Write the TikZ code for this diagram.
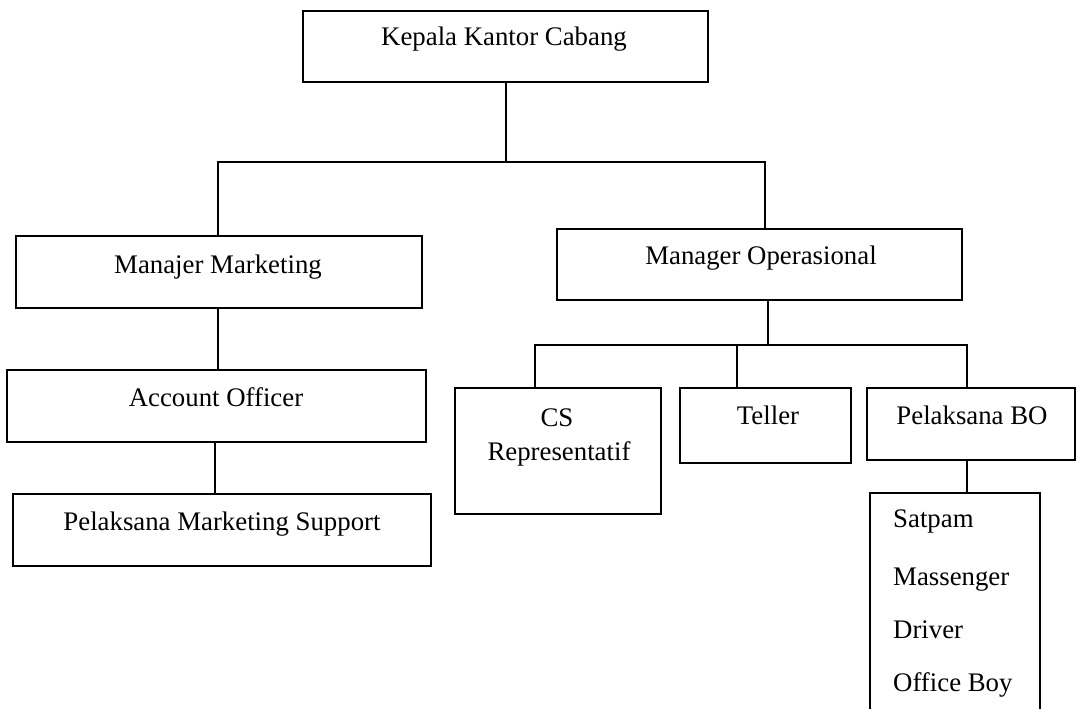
\documentclass[tikz,border=0pt]{standalone}
\usepackage{fontspec}
\setmainfont{Liberation Serif}
\begin{document}
\begin{tikzpicture}[x=1pt,y=-1pt,
  box/.style={draw, line width=2pt, inner sep=0pt, outer sep=0pt},
  lbl/.style={font=\fontsize{26.8}{32}\selectfont, inner sep=0pt, anchor=base},
  lbll/.style={font=\fontsize{26.8}{32}\selectfont, inner sep=0pt, anchor=base west},
  conn/.style={line width=2pt}]
\useasboundingbox (0,0) rectangle (1077,709);
\clip (0,0) rectangle (1077,709);
% boxes
\node[box, minimum width=405pt, minimum height=71pt] (kkc) at (505.5,46.5) {};
\node[box, minimum width=406pt, minimum height=72pt] (mm) at (219,272) {};
\node[box, minimum width=405pt, minimum height=71pt] (mo) at (759.5,264.5) {};
\node[box, minimum width=419pt, minimum height=72pt] (ao) at (216.5,406) {};
\node[box, minimum width=418pt, minimum height=72pt] (pms) at (222,530) {};
\node[box, minimum width=206pt, minimum height=126pt] (cs) at (558,451) {};
\node[box, minimum width=171pt, minimum height=75pt] (tel) at (765.5,425.5) {};
\node[box, minimum width=208pt, minimum height=72pt] (pbo) at (971,424) {};
\node[box, minimum width=170pt, minimum height=223pt] (staff) at (955,604.5) {};
% labels
\node[lbl] (kkct) at (504,46) {Kepala Kantor Cabang};
\node[lbl] (mmt) at (218,273) {Manajer Marketing};
\node[lbl] (mot) at (761,264) {Manager Operasional};
\node[lbl] (aot) at (216,406) {Account Officer};
\node[lbl] (pmst) at (222,530) {Pelaksana Marketing Support};
\node[lbl] (cst1) at (557,426) {CS};
\node[lbl] (cst2) at (559,460) {Representatif};
\node[lbl] (telt) at (768,424) {Teller};
\node[lbl] (pbot) at (972,424) {Pelaksana BO};
\node[lbll] (s1) at (893,527) {Satpam};
\node[lbll] (s2) at (893,585) {Massenger};
\node[lbll] (s3) at (893,638) {Driver};
\node[lbll] (s4) at (893,691) {Office Boy};
% junctions
\coordinate (j1) at (506,162);
\coordinate (jl) at (218,162);
\coordinate (jr) at (765,162);
\coordinate (j2) at (215,0);
\coordinate (j3) at (768,345);
\coordinate (ja) at (535,345);
\coordinate (jb) at (737,345);
\coordinate (jc) at (967,345);
% connectors
\draw[conn] (kkc.south -| j1) -- (j1);
\draw[conn] (jl |- mm.north) -- (jl) -- (jr) -- (jr |- mo.north);
\draw[conn] (mm.south -| jl) -- (ao.north -| jl);
\draw[conn] (ao.south -| j2) -- (pms.north -| j2);
\draw[conn] (mo.south -| j3) -- (j3);
\draw[conn] (ja |- cs.north) -- (ja) -- (jc) -- (jc |- pbo.north);
\draw[conn] (jb) -- (jb |- tel.north);
\draw[conn] (pbo.south -| jc) -- (staff.north -| jc);
\end{tikzpicture}
\end{document}
